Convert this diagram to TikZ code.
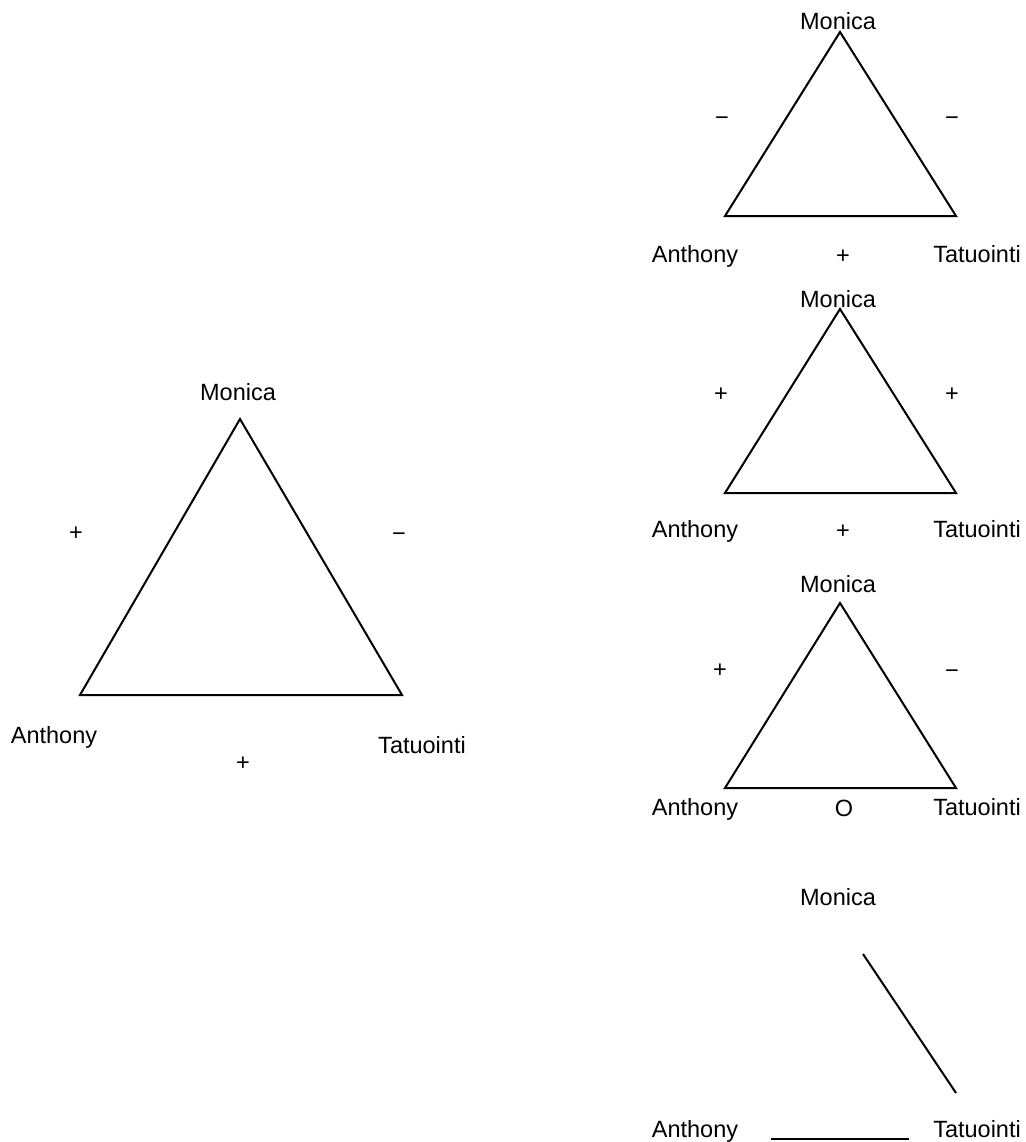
\documentclass[tikz,border=0pt]{standalone}
\usepackage{fontspec}
\setmainfont{Liberation Sans}
\usepackage{tikz}

\begin{document}
\begin{tikzpicture}[x=1pt, y=-1pt, lbl/.style={font=\fontsize{23.5}{27}\selectfont, inner sep=0pt, anchor=base}, tie/.style={line width=2pt, line join=miter}]
        \useasboundingbox (0,0) rectangle (1025,1142);
        % Big triangle
        \coordinate (M0) at (240,419);
        \coordinate (A0) at (80,695);
        \coordinate (T0) at (402,695);
        \node[lbl] (mon0) at (238,400) {Monica};
        \node[lbl] (ant0) at (54,743) {Anthony};
        \node[lbl] (tat0) at (422,753) {Tatuointi};
        \node[lbl] (sl0) at (76,540) {+};
        \node[lbl] (sr0) at (399,541) {−};
        \node[lbl] (sb0) at (243,770) {+};
        % Triangle 1
        \coordinate (M1) at (840,32);
        \coordinate (A1) at (725,216);
        \coordinate (T1) at (956,216);
        \node[lbl] (mon1) at (838,30) {Monica};
        \node[lbl] (ant1) at (695,262) {Anthony};
        \node[lbl] (tat1) at (977,262) {Tatuointi};
        \node[lbl] (sl1) at (722,126) {−};
        \node[lbl] (sr1) at (952,126) {−};
        \node[lbl] (sb1) at (843,263) {+};
        % Triangle 2
        \coordinate (M2) at (840,309);
        \coordinate (A2) at (725,493);
        \coordinate (T2) at (956,493);
        \node[lbl] (mon2) at (838,307) {Monica};
        \node[lbl] (ant2) at (695,537) {Anthony};
        \node[lbl] (tat2) at (977,537) {Tatuointi};
        \node[lbl] (sl2) at (721,401) {+};
        \node[lbl] (sr2) at (952,401) {+};
        \node[lbl] (sb2) at (843,538) {+};
        % Triangle 3
        \coordinate (M3) at (840,603);
        \coordinate (A3) at (725,788);
        \coordinate (T3) at (956,788);
        \node[lbl] (mon3) at (838,592) {Monica};
        \node[lbl] (ant3) at (695,815) {Anthony};
        \node[lbl] (tat3) at (977,815) {Tatuointi};
        \node[lbl] (sl3) at (720,677) {+};
        \node[lbl] (sr3) at (952,678) {−};
        \node[lbl] (sb3) at (844,816) {O};
        % Broken triangle
        \coordinate (P4) at (863,954);
        \coordinate (Q4) at (956,1093);
        \coordinate (R4) at (771,1139);
        \coordinate (S4) at (909,1139);
        \node[lbl] (mon4) at (838,905) {Monica};
        \node[lbl] (ant4) at (695,1137) {Anthony};
        \node[lbl] (tat4) at (977,1137) {Tatuointi};
        % Edges
        \draw[tie] (M0) -- (A0) -- (T0) -- cycle;
        \draw[tie] (M1) -- (A1) -- (T1) -- cycle;
        \draw[tie] (M2) -- (A2) -- (T2) -- cycle;
        \draw[tie] (M3) -- (A3) -- (T3) -- cycle;
        \draw[tie] (P4) -- (Q4);
        \draw[tie] (R4) -- (S4);
    \end{tikzpicture}
\end{document}
